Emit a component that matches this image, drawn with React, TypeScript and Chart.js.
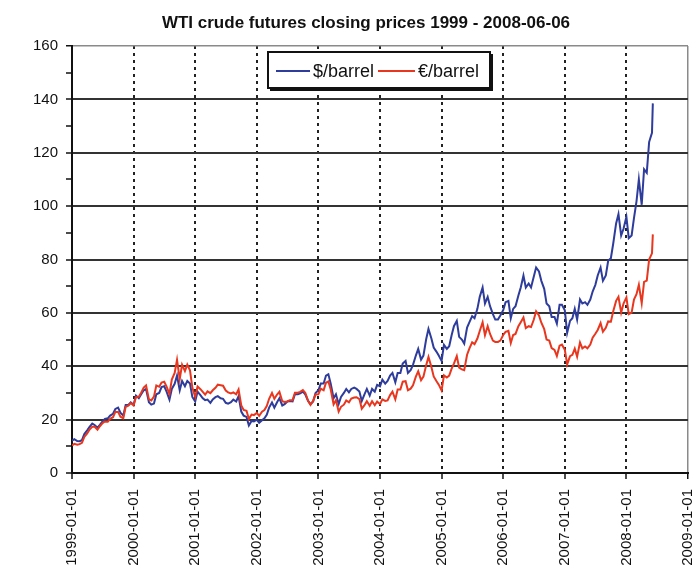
import React, { useEffect, useRef } from 'react';
import { Chart, registerables } from 'chart.js';

Chart.register(...registerables);

const chartTitle = 'WTI crude futures closing prices 1999 - 2008-06-06';
const seriesLabels = ['$/barrel', '€/barrel'];
const years = [1999, 2000, 2001, 2002, 2003, 2004, 2005, 2006, 2007, 2008];
const sampleDays = [1, 15];
const lastDate = '2008-06-06';
const xTickYears = [1999, 2000, 2001, 2002, 2003, 2004, 2005, 2006, 2007, 2008, 2009];
const yTickValues = [0, 10, 20, 30, 40, 50, 60, 70, 80, 90, 100, 110, 120, 130, 140, 150, 160];

// $/barrel, sampled on the 1st and 15th of each month
const usd1999 = [12.1, 12.7, 12.0, 11.9, 12.3, 14.6, 16.0, 17.3, 18.5, 18.0, 17.0, 18.0, 19.3, 20.3, 20.5, 21.5, 22.2, 24.0, 24.5, 22.6, 21.5, 25.5, 25.5, 26.5];
const usd2000 = [25.6, 29.0, 28.0, 29.5, 31.0, 31.5, 26.5, 25.6, 26.0, 29.5, 30.0, 32.2, 32.5, 30.5, 27.5, 31.5, 33.4, 36.5, 31.0, 34.5, 32.5, 34.5, 33.5, 28.5];
const usd2001 = [26.8, 30.5, 29.2, 28.0, 27.3, 27.5, 26.3, 27.6, 28.4, 28.8, 28.0, 27.8, 26.3, 26.0, 26.5, 27.5, 26.8, 28.8, 23.0, 21.5, 21.0, 17.8, 19.5, 19.3];
const usd2002 = [20.0, 18.8, 19.8, 20.5, 21.8, 24.5, 26.4, 24.5, 26.5, 28.0, 25.3, 25.8, 26.8, 27.0, 26.8, 29.5, 29.5, 29.8, 30.5, 29.5, 27.0, 25.8, 26.8, 30.0];
const usd2003 = [31.0, 33.5, 33.5, 36.5, 37.0, 33.5, 28.0, 29.5, 25.8, 28.5, 30.0, 31.5, 30.2, 31.5, 32.0, 31.5, 30.5, 27.0, 29.5, 31.5, 29.0, 31.5, 30.5, 33.0];
const usd2004 = [32.5, 35.0, 33.5, 34.5, 36.5, 37.5, 34.0, 37.5, 37.5, 41.0, 42.0, 37.5, 38.5, 40.5, 44.0, 46.5, 42.5, 44.0, 50.0, 54.0, 50.5, 47.0, 45.5, 44.0];
const usd2005 = [42.0, 48.0, 46.5, 47.5, 51.5, 55.0, 57.0, 51.0, 50.0, 48.5, 54.5, 56.5, 58.8, 58.0, 61.5, 66.0, 69.5, 63.5, 66.0, 62.5, 59.5, 57.5, 57.5, 59.0];
const usd2006 = [61.0, 64.0, 64.5, 58.0, 61.5, 62.5, 66.5, 69.5, 74.0, 69.5, 71.0, 69.5, 73.5, 77.0, 75.5, 72.0, 69.0, 63.5, 62.5, 58.5, 58.5, 56.0, 63.0, 63.0];
const usd2007 = [61.0, 52.5, 57.0, 58.0, 61.5, 57.5, 65.0, 63.5, 64.0, 63.0, 65.0, 68.0, 70.5, 74.0, 77.0, 72.0, 74.0, 79.5, 80.5, 86.0, 93.5, 97.0, 89.0, 91.5];
const usd2008 = [96.0, 88.0, 89.0, 95.5, 101.8, 110.0, 100.5, 113.8, 112.5, 124.0, 127.5, 138.5];

// €/barrel, same dates
const eur1999 = [10.3, 10.9, 10.6, 10.8, 11.3, 13.5, 14.8, 16.3, 17.3, 17.3, 16.2, 17.5, 18.7, 19.3, 19.2, 20.3, 20.9, 22.9, 22.9, 21.1, 20.5, 24.8, 25.2, 26.2];
const eur2000 = [25.3, 28.4, 28.6, 30.1, 32.0, 32.8, 27.6, 27.2, 28.6, 32.8, 32.3, 33.9, 34.2, 32.4, 29.6, 35.0, 37.5, 42.4, 35.2, 40.6, 38.2, 40.6, 38.5, 32.0];
const eur2001 = [28.5, 32.4, 31.4, 30.4, 29.4, 30.6, 29.9, 31.0, 31.9, 33.1, 32.9, 32.7, 30.9, 30.2, 29.8, 30.2, 29.5, 31.3, 25.3, 23.6, 23.3, 20.2, 21.9, 21.7];
const eur2002 = [22.5, 21.4, 23.0, 23.6, 25.1, 27.8, 30.0, 27.8, 29.4, 30.4, 26.9, 26.6, 26.8, 27.3, 27.3, 30.1, 30.1, 30.4, 31.1, 30.1, 27.0, 25.5, 27.1, 29.4];
const eur2003 = [29.5, 31.6, 31.0, 33.8, 34.3, 31.3, 25.7, 27.3, 23.0, 24.8, 25.6, 27.2, 26.5, 27.9, 28.3, 28.4, 27.7, 24.1, 25.4, 26.9, 25.2, 26.9, 25.4, 26.8];
const eur2004 = [25.8, 27.6, 27.0, 27.2, 29.2, 30.5, 27.6, 31.3, 31.3, 34.2, 34.4, 31.0, 31.6, 32.9, 36.1, 38.1, 34.8, 36.1, 40.3, 43.5, 39.8, 36.2, 34.5, 33.1];
const eur2005 = [30.9, 36.6, 35.8, 36.5, 39.0, 41.0, 43.8, 39.5, 38.8, 38.5, 44.3, 46.7, 49.0, 48.3, 50.4, 53.2, 56.5, 51.6, 55.0, 52.1, 49.6, 49.1, 49.1, 49.6];
const eur2006 = [51.7, 52.9, 53.3, 48.7, 51.7, 52.1, 55.0, 56.5, 58.3, 54.3, 55.0, 54.7, 57.4, 60.6, 59.0, 56.3, 53.9, 50.0, 49.6, 46.8, 46.1, 43.8, 47.7, 48.1];
const eur2007 = [46.2, 40.7, 43.8, 44.3, 46.6, 43.6, 48.9, 46.7, 47.4, 46.7, 48.1, 50.7, 52.2, 53.6, 56.2, 52.9, 54.4, 56.8, 56.7, 60.6, 64.5, 66.0, 60.1, 63.5];
const eur2008 = [65.8, 59.5, 60.1, 65.0, 67.0, 70.5, 63.6, 71.6, 72.1, 80.0, 82.3, 89.4];

const usdByYear = [usd1999, usd2000, usd2001, usd2002, usd2003, usd2004, usd2005, usd2006, usd2007, usd2008];
const eurByYear = [eur1999, eur2000, eur2001, eur2002, eur2003, eur2004, eur2005, eur2006, eur2007, eur2008];

const FONT = "'Liberation Sans', Arial, Helvetica, sans-serif";
const BLUE = '#2e3c9c';
const RED = '#e8371e';

function pad(n: number) {
  return n < 10 ? '0' + n : String(n);
}

function buildDates(): string[] {
  const out: string[] = [];
  years.forEach((y, yi) => {
    const n = usdByYear[yi].length;
    for (let k = 0; k < n; k++) {
      if (yi === years.length - 1 && k === n - 1) {
        out.push(lastDate);
      } else {
        out.push(`${y}-${pad(Math.floor(k / 2) + 1)}-${pad(sampleDays[k % 2])}`);
      }
    }
  });
  return out;
}

function toYearFrac(s: string): number {
  const [y, m, d] = s.split('-').map(Number);
  const start = Date.UTC(y, 0, 1);
  const end = Date.UTC(y + 1, 0, 1);
  return y + (Date.UTC(y, m - 1, d) - start) / (end - start);
}

const overlayPlugin = {
  id: 'overlay',
  afterDraw(chart: any) {
    const ctx = chart.ctx as CanvasRenderingContext2D;
    ctx.save();
    // title
    ctx.fillStyle = '#111';
    ctx.font = `bold 17px ${FONT}`;
    ctx.textAlign = 'center';
    ctx.textBaseline = 'middle';
    ctx.fillText(chartTitle, 366, 23);

    // legend box
    const bx = 268, by = 52, bw = 222, bh = 36;
    ctx.fillStyle = '#111';
    ctx.fillRect(bx + 2, by + 2, bw + 1, bh + 1);
    ctx.fillStyle = '#ffffff';
    ctx.fillRect(bx, by, bw, bh);
    ctx.lineWidth = 2;
    ctx.strokeStyle = '#111';
    ctx.strokeRect(bx, by, bw, bh);

    const cy = by + bh / 2 + 1;
    const items = [
      { x1: 276, x2: 310, tx: 313, color: BLUE, label: seriesLabels[0] },
      { x1: 378, x2: 415, tx: 418, color: RED, label: seriesLabels[1] },
    ];
    ctx.font = `18px ${FONT}`;
    ctx.textAlign = 'left';
    ctx.textBaseline = 'middle';
    items.forEach((it) => {
      ctx.strokeStyle = it.color;
      ctx.lineWidth = 2;
      ctx.beginPath();
      ctx.moveTo(it.x1, cy);
      ctx.lineTo(it.x2, cy);
      ctx.stroke();
      ctx.fillStyle = '#111';
      ctx.fillText(it.label, it.tx, cy + 1);
    });
    ctx.restore();
  },
};

export default function App() {
  const canvasRef = useRef<HTMLCanvasElement | null>(null);

  useEffect(() => {
    if (!canvasRef.current) return;
    const dates = buildDates();
    const xs = dates.map(toYearFrac);
    const usd = usdByYear.flat();
    const eur = eurByYear.flat();
    const usdPoints = xs.map((x, i) => ({ x, y: usd[i] }));
    const eurPoints = xs.map((x, i) => ({ x, y: eur[i] }));

    const chart = new Chart(canvasRef.current, {
      type: 'line',
      data: {
        datasets: [
          {
            label: seriesLabels[0],
            data: usdPoints,
            borderColor: BLUE,
            backgroundColor: BLUE,
            borderWidth: 2,
            pointRadius: 0,
            tension: 0,
            order: 1,
          },
          {
            label: seriesLabels[1],
            data: eurPoints,
            borderColor: RED,
            backgroundColor: RED,
            borderWidth: 2,
            pointRadius: 0,
            tension: 0,
            order: 0,
          },
        ],
      },
      options: {
        animation: false,
        responsive: false,
        maintainAspectRatio: false,
        layout: { padding: { top: 46, right: 8, left: 0, bottom: 0 } },
        plugins: {
          legend: { display: false },
          title: { display: false },
          tooltip: { enabled: false },
        },
        scales: {
          x: {
            type: 'linear',
            min: xTickYears[0],
            max: xTickYears[xTickYears.length - 1],
            afterBuildTicks: (s: any) => {
              s.ticks = xTickYears.map((v) => ({ value: v }));
            },
            afterFit: (s: any) => {
              s.height = 98;
              s.paddingLeft = 0;
              s.paddingRight = 0;
            },
            ticks: {
              autoSkip: false,
              minRotation: 90,
              maxRotation: 90,
              padding: 10,
              color: '#111',
              font: { family: FONT, size: 15 },
              callback: (v: any) => `${v}-01-01`,
            },
            grid: {
              color: (c: any) => {
                const v = c.tick ? c.tick.value : null;
                if (v === xTickYears[0]) return 'rgba(0,0,0,0)';
                if (v === xTickYears[xTickYears.length - 1]) return '#8a8a8a';
                return '#222';
              },
              lineWidth: (c: any) => (c.tick && c.tick.value === xTickYears[xTickYears.length - 1] ? 1.5 : 2),
              tickLength: 6,
              tickColor: '#111',
              tickWidth: 1.5,
            },
            border: {
              display: true,
              color: '#111',
              width: 2,
              dash: (c: any) => (c.tick && c.tick.value === xTickYears[xTickYears.length - 1] ? [] : [3, 4]),
            },
          },
          y: {
            type: 'linear',
            min: yTickValues[0],
            max: yTickValues[yTickValues.length - 1],
            afterBuildTicks: (s: any) => {
              s.ticks = yTickValues.map((v) => ({ value: v }));
            },
            afterFit: (s: any) => {
              s.width = 72;
              s.paddingTop = 0;
              s.paddingBottom = 0;
            },
            ticks: {
              autoSkip: false,
              padding: 8,
              color: '#111',
              font: { family: FONT, size: 15 },
              callback: (v: any) => (Number(v) % 20 === 0 ? String(v) : ''),
            },
            grid: {
              color: (c: any) => {
                const v = c.tick ? c.tick.value : null;
                if (v === 0) return 'rgba(0,0,0,0)';
                if (v === 160) return '#8a8a8a';
                return v % 20 === 0 ? '#333' : 'rgba(0,0,0,0)';
              },
              lineWidth: (c: any) => (c.tick && c.tick.value === 160 ? 1.5 : 2),
              tickLength: 6,
              tickColor: '#111',
              tickWidth: 1.5,
            },
            border: { display: true, color: '#111', width: 2 },
          },
        },
      },
      plugins: [overlayPlugin],
    } as any);

    return () => chart.destroy();
  }, []);

  return (
    <div style={{ position: 'absolute', left: 0, top: 0, width: 696, height: 571, background: '#fff' }}>
      <canvas ref={canvasRef} width={696} height={571} style={{ display: 'block', width: 696, height: 571 }} />
    </div>
  );
}
